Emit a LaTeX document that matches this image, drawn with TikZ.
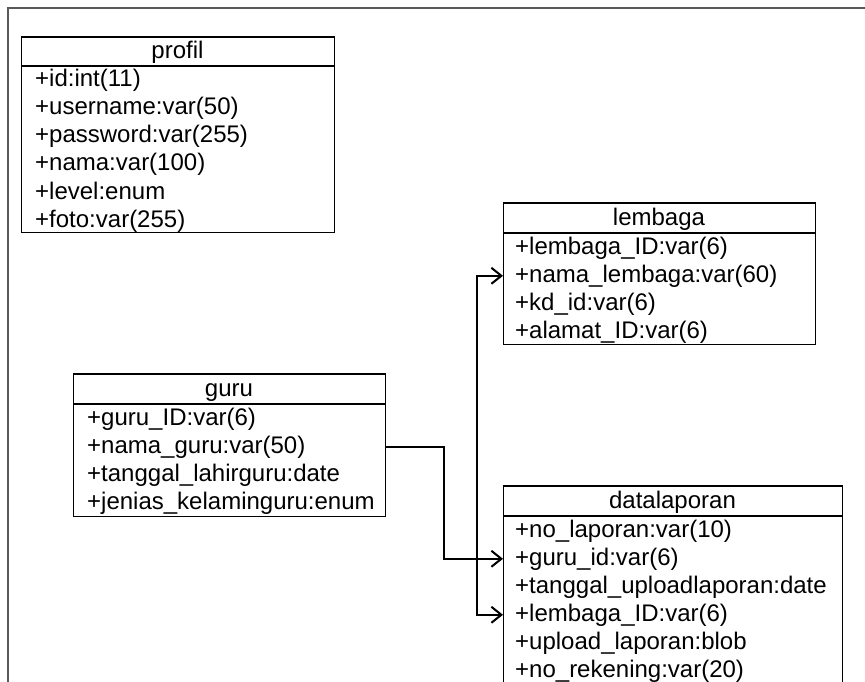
\documentclass[tikz,border=0pt]{standalone}
\usepackage{fontspec}
\setmainfont{Liberation Sans}
\usetikzlibrary{arrows.meta,calc}
\begin{document}
\begin{tikzpicture}[x=1pt,y=-1pt,
  tbox/.style={draw=black, line width=1.4pt, inner sep=0pt, anchor=north west},
  hline/.style={line width=2.4pt},
  ttl/.style={font=\fontsize{24}{28}\selectfont, inner sep=0pt, anchor=base},
  row/.style={font=\fontsize{24}{28}\selectfont, inner sep=0pt, anchor=base west},
  conn/.style={line width=2.2pt, draw=black},
  barb/.tip={Straight Barb[length=10pt,width=16pt,line width=2pt]},
  frame/.style={draw=black!65, line width=2pt},
]
\useasboundingbox (0,0) rectangle (865,682);
\clip (0,0) rectangle (865,682);
\draw[frame] (866,8) -- (8,8) -- (8,683);

% profil
\node[tbox, minimum width=313pt, minimum height=195pt] (profil) at (21,37) {};
\draw[hline] (profil.north west) -- (profil.north east);
\draw[hline] ($(profil.north west)+(0,29)$) -- ($(profil.north east)+(0,29)$);
\node[ttl] (profilT) at (177.5,59) {profil};
\node[row] (profil1) at (35,87) {+id:int(11)};
\node[row] (profil2) at (35,115) {+username:var(50)};
\node[row] (profil3) at (35,143) {+password:var(255)};
\node[row] (profil4) at (35,171) {+nama:var(100)};
\node[row] (profil5) at (35,199) {+level:enum};
\node[row] (profil6) at (35,227) {+foto:var(255)};

% lembaga
\node[tbox, minimum width=312pt, minimum height=141pt] (lembaga) at (503,203) {};
\draw[hline] (lembaga.north west) -- (lembaga.north east);
\draw[hline] ($(lembaga.north west)+(0,30)$) -- ($(lembaga.north east)+(0,30)$);
\node[ttl] (lembagaT) at (659,225) {lembaga};
\node[row] (lem1) at (515,254) {+lembaga\_ID:var(6)};
\node[row] (lem2) at (515,282) {+nama\_lembaga:var(60)};
\node[row] (lem3) at (515,310) {+kd\_id:var(6)};
\node[row] (lem4) at (515,338) {+alamat\_ID:var(6)};

% guru
\node[tbox, minimum width=312pt, minimum height=142pt] (guru) at (73,374) {};
\draw[hline] (guru.north west) -- (guru.north east);
\draw[hline] ($(guru.north west)+(0,30)$) -- ($(guru.north east)+(0,30)$);
\node[ttl] (guruT) at (229,396) {guru};
\node[row] (guru1) at (87,425) {+guru\_ID:var(6)};
\node[row] (guru2) at (87,453) {+nama\_guru:var(50)};
\node[row] (guru3) at (87,481) {+tanggal\_lahirguru:date};
\node[row] (guru4) at (87,509) {+jenias\_kelaminguru:enum};

% datalaporan
\node[tbox, minimum width=339pt, minimum height=220pt] (dl) at (503,486) {};
\draw[hline] (dl.north west) -- (dl.north east);
\draw[hline] ($(dl.north west)+(0,30)$) -- ($(dl.north east)+(0,30)$);
\node[ttl] (dlT) at (672.5,508) {datalaporan};
\node[row] (dl1) at (515,537) {+no\_laporan:var(10)};
\node[row] (dl2) at (515,565) {+guru\_id:var(6)};
\node[row] (dl3) at (515,593) {+tanggal\_uploadlaporan:date};
\node[row] (dl4) at (515,621) {+lembaga\_ID:var(6)};
\node[row] (dl5) at (515,649) {+upload\_laporan:blob};
\node[row] (dl6) at (515,677) {+no\_rekening:var(20)};

% connectors
\coordinate (j1) at (444,0);
\coordinate (j2) at (477,0);
\draw[conn, -barb] (guru.east |- guru2) -- (j1 |- guru2) -- (j1 |- dl2) -- (dl.west |- dl2);
\draw[conn, barb-barb] (lembaga.west |- lem2) -- (j2 |- lem2) -- (j2 |- dl4) -- (dl.west |- dl4);
\end{tikzpicture}
\end{document}
